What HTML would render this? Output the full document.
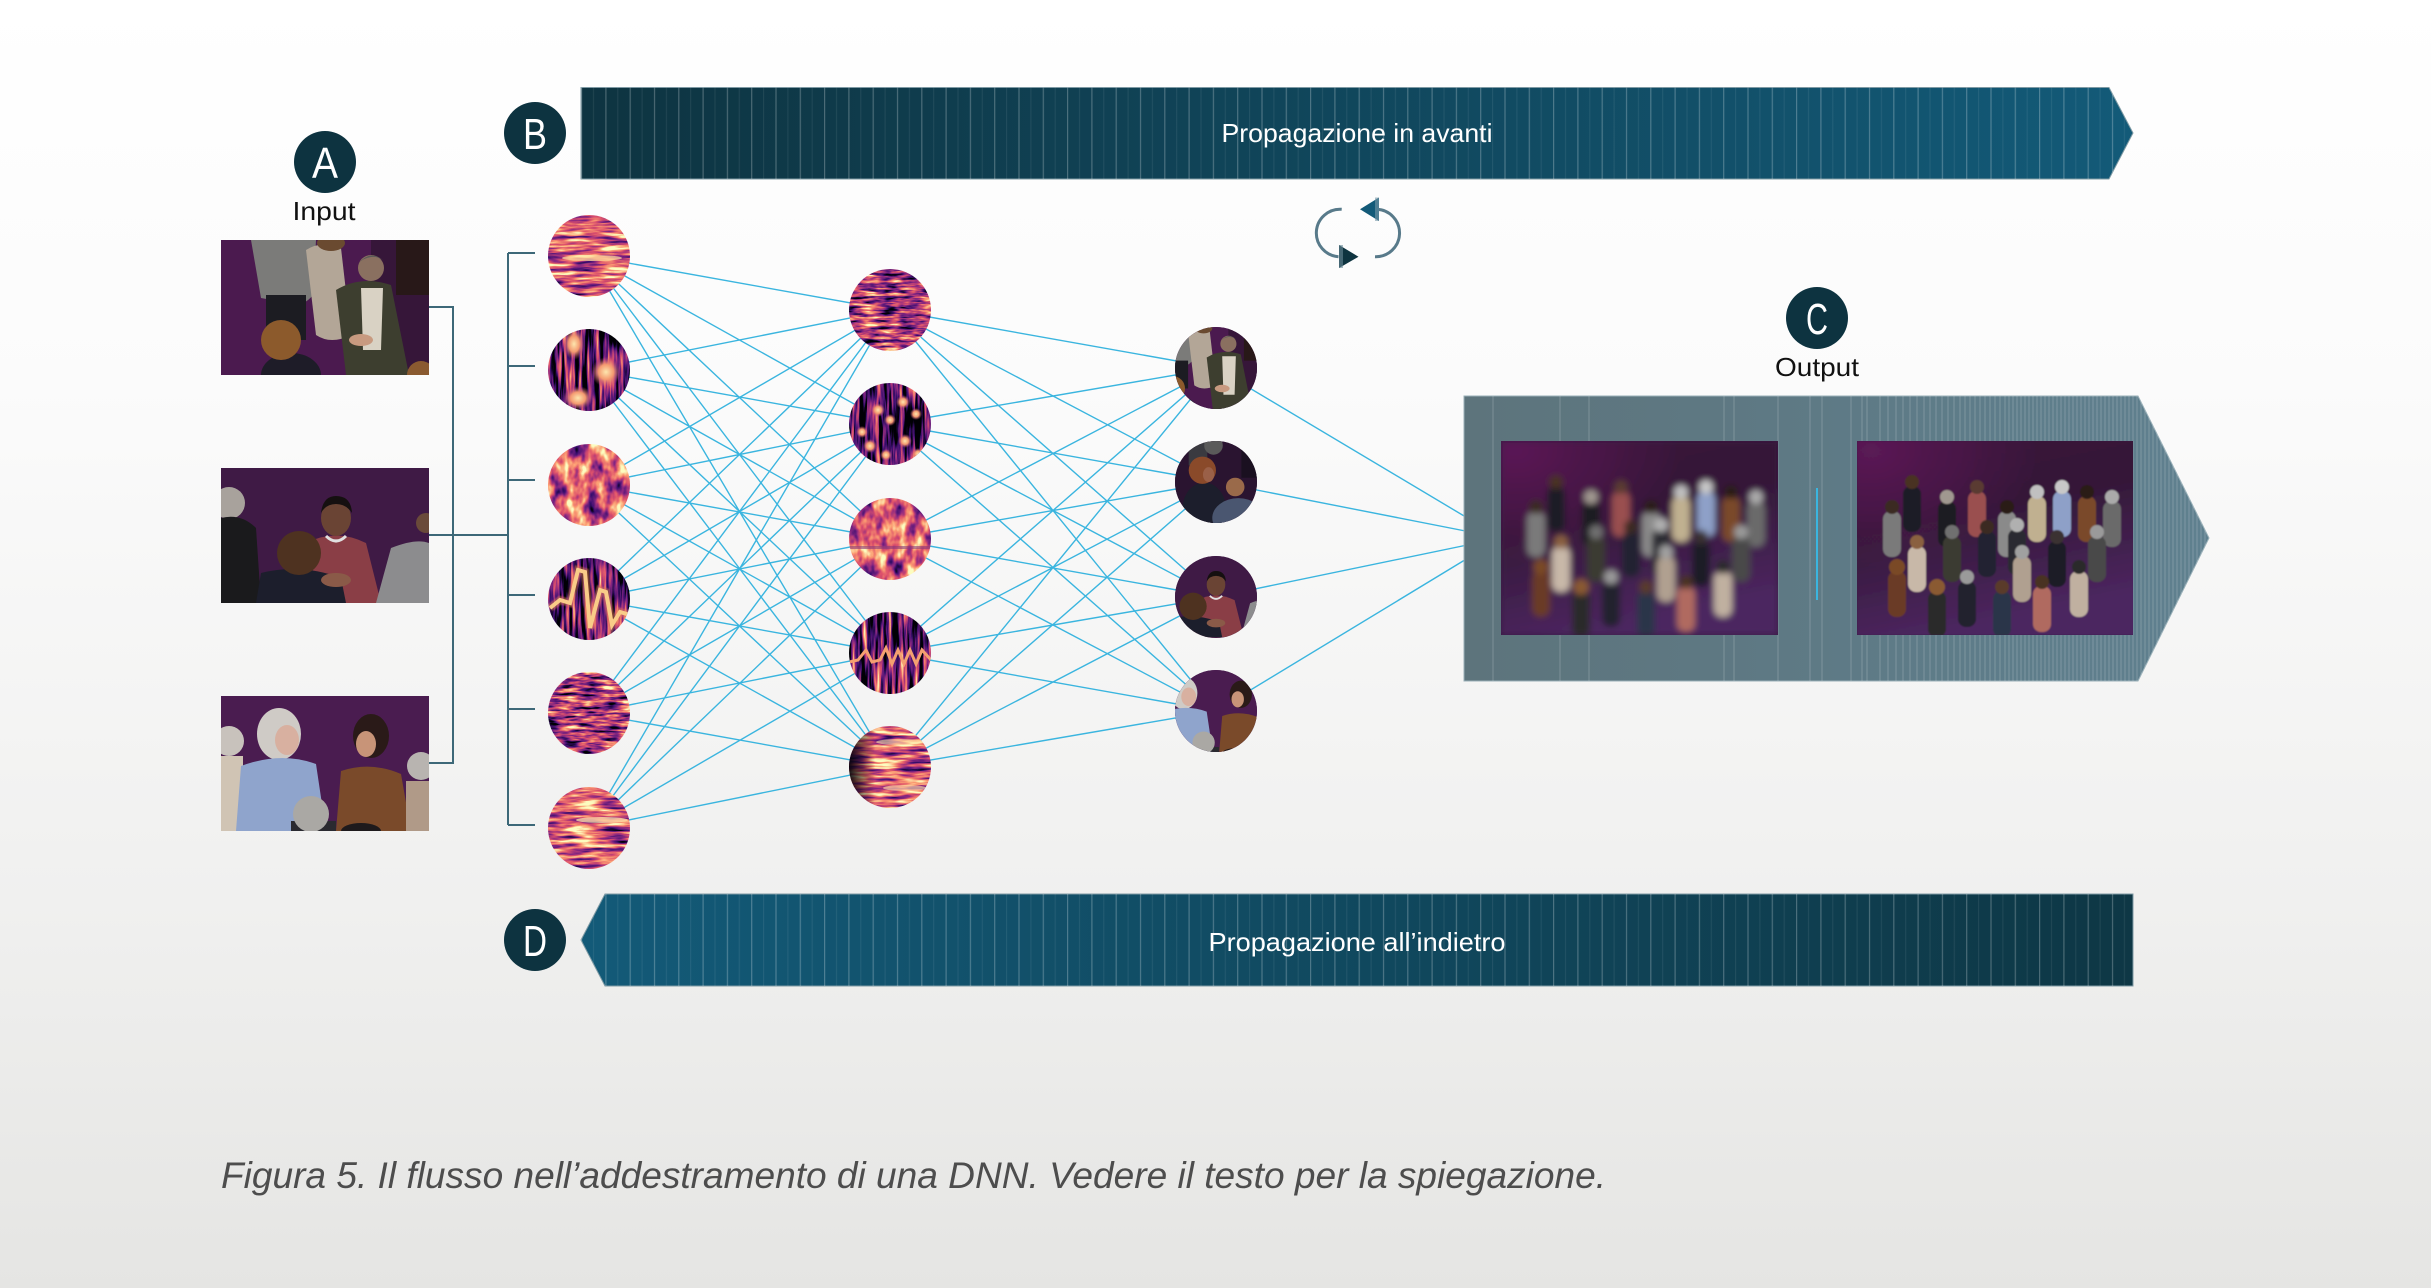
<!DOCTYPE html>
<html><head><meta charset="utf-8">
<style>
html,body{margin:0;padding:0;width:2431px;height:1288px;overflow:hidden;background:#f3f3f2}
svg{display:block}
</style></head>
<body>
<svg width="2431" height="1288" viewBox="0 0 2431 1288" xmlns="http://www.w3.org/2000/svg">
<defs>
  <linearGradient id="bg" x1="0" y1="0" x2="0" y2="1">
    <stop offset="0" stop-color="#ffffff"/>
    <stop offset="0.3" stop-color="#fbfbfb"/>
    <stop offset="0.7" stop-color="#f0f0ef"/>
    <stop offset="1" stop-color="#e5e5e3"/>
  </linearGradient>
  <linearGradient id="gTop" x1="0" y1="0" x2="1" y2="0">
    <stop offset="0" stop-color="#0e3441"/>
    <stop offset="1" stop-color="#135a78"/>
  </linearGradient>
  <linearGradient id="gBot" x1="0" y1="0" x2="1" y2="0">
    <stop offset="0" stop-color="#135a78"/>
    <stop offset="1" stop-color="#0e3745"/>
  </linearGradient>
  <linearGradient id="gOut" x1="0" y1="0" x2="1" y2="0">
    <stop offset="0" stop-color="#5d747c"/>
    <stop offset="1" stop-color="#5f808f"/>
  </linearGradient>
  <pattern id="strp" x="581" y="0" width="24.3" height="20" patternUnits="userSpaceOnUse">
    <rect x="0" y="0" width="1.2" height="20" fill="#ffffff" fill-opacity="0.25"/>
    <rect x="12" y="0" width="1" height="20" fill="#ffffff" fill-opacity="0.08"/>
  </pattern>
  <clipPath id="cOutBox"><path d="M1464 396H2138L2209 538L2138 681H1464Z"/></clipPath>

  <!-- spectrogram filters -->
  <filter id="fHw" x="0" y="0" width="1" height="1" color-interpolation-filters="sRGB">
    <feTurbulence type="fractalNoise" baseFrequency="0.03 0.25" numOctaves="3" seed="4"/>
    <feColorMatrix type="matrix" values="1.7 0 0 0 -0.22 1.7 0 0 0 -0.22 1.7 0 0 0 -0.22 0 0 0 0 1"/>
    <feComponentTransfer>
      <feFuncR type="table" tableValues="0 0.23 0.55 0.87 0.99 0.99"/>
      <feFuncG type="table" tableValues="0 0.06 0.16 0.32 0.62 0.99"/>
      <feFuncB type="table" tableValues="0.02 0.44 0.51 0.42 0.45 0.75"/>
    </feComponentTransfer>
  </filter>
  <filter id="fNw" x="0" y="0" width="1" height="1" color-interpolation-filters="sRGB">
    <feTurbulence type="fractalNoise" baseFrequency="0.08 0.05" numOctaves="3" seed="9"/>
    <feColorMatrix type="matrix" values="1.6 0 0 0 -0.17 1.6 0 0 0 -0.17 1.6 0 0 0 -0.17 0 0 0 0 1"/>
    <feComponentTransfer>
      <feFuncR type="table" tableValues="0 0.23 0.55 0.87 0.99 0.99"/>
      <feFuncG type="table" tableValues="0 0.06 0.16 0.32 0.62 0.99"/>
      <feFuncB type="table" tableValues="0.02 0.44 0.51 0.42 0.45 0.75"/>
    </feComponentTransfer>
  </filter>
  <filter id="fHm" x="0" y="0" width="1" height="1" color-interpolation-filters="sRGB">
    <feTurbulence type="fractalNoise" baseFrequency="0.05 0.3" numOctaves="3" seed="17"/>
    <feColorMatrix type="matrix" values="1.8 0 0 0 -0.42 1.8 0 0 0 -0.42 1.8 0 0 0 -0.42 0 0 0 0 1"/>
    <feComponentTransfer>
      <feFuncR type="table" tableValues="0 0.23 0.55 0.87 0.99 0.99"/>
      <feFuncG type="table" tableValues="0 0.06 0.16 0.32 0.62 0.99"/>
      <feFuncB type="table" tableValues="0.02 0.44 0.51 0.42 0.45 0.75"/>
    </feComponentTransfer>
  </filter>
  <filter id="fVd" x="0" y="0" width="1" height="1" color-interpolation-filters="sRGB">
    <feTurbulence type="fractalNoise" baseFrequency="0.25 0.02" numOctaves="3" seed="23"/>
    <feColorMatrix type="matrix" values="2.0 0 0 0 -0.75 2.0 0 0 0 -0.75 2.0 0 0 0 -0.75 0 0 0 0 1"/>
    <feComponentTransfer>
      <feFuncR type="table" tableValues="0 0.23 0.55 0.87 0.99 0.99"/>
      <feFuncG type="table" tableValues="0 0.06 0.16 0.32 0.62 0.99"/>
      <feFuncB type="table" tableValues="0.02 0.44 0.51 0.42 0.45 0.75"/>
    </feComponentTransfer>
  </filter>
  <radialGradient id="blob">
    <stop offset="0" stop-color="#fde6ae"/>
    <stop offset="0.5" stop-color="#f49a70"/>
    <stop offset="1" stop-color="#c04a7a" stop-opacity="0"/>
  </radialGradient>
  <linearGradient id="darkL" x1="0" y1="0" x2="1" y2="0">
    <stop offset="0" stop-color="#08040c" stop-opacity="0.95"/>
    <stop offset="1" stop-color="#08040c" stop-opacity="0"/>
  </linearGradient>
  <filter id="soft"><feGaussianBlur stdDeviation="0.8"/></filter>
  <filter id="blurA" x="-5%" y="-5%" width="110%" height="110%"><feGaussianBlur stdDeviation="3.2"/></filter>
  <filter id="blurB" x="-5%" y="-5%" width="110%" height="110%"><feGaussianBlur stdDeviation="0.7"/></filter>

  <!-- neuron clips -->
  <clipPath id="n0"><circle cx="589" cy="256" r="41"/></clipPath>
  <clipPath id="n1"><circle cx="589" cy="370" r="41"/></clipPath>
  <clipPath id="n2"><circle cx="589" cy="485" r="41"/></clipPath>
  <clipPath id="n3"><circle cx="589" cy="599" r="41"/></clipPath>
  <clipPath id="n4"><circle cx="589" cy="713" r="41"/></clipPath>
  <clipPath id="n5"><circle cx="589" cy="828" r="41"/></clipPath>
  <clipPath id="m0"><circle cx="890" cy="310" r="41"/></clipPath>
  <clipPath id="m1"><circle cx="890" cy="424" r="41"/></clipPath>
  <clipPath id="m2"><circle cx="890" cy="539" r="41"/></clipPath>
  <clipPath id="m3"><circle cx="890" cy="653" r="41"/></clipPath>
  <clipPath id="m4"><circle cx="890" cy="767" r="41"/></clipPath>
  <clipPath id="k0"><circle cx="1216" cy="368" r="41"/></clipPath>
  <clipPath id="k1"><circle cx="1216" cy="482" r="41"/></clipPath>
  <clipPath id="k2"><circle cx="1216" cy="597" r="41"/></clipPath>
  <clipPath id="k3"><circle cx="1216" cy="711" r="41"/></clipPath>

  <!-- photos -->
  <clipPath id="cImg"><rect x="0" y="0" width="208" height="135"/></clipPath>
  <g id="p1" clip-path="url(#cImg)">
    <rect width="208" height="135" fill="#4b1a4f"/>
    <rect x="150" width="58" height="135" fill="#2e1630" opacity="0.7"/>
    <path d="M30 0H95L92 55Q80 70 62 62L40 58Z" fill="#7b7b79"/>
    <rect x="45" y="55" width="40" height="45" fill="#1c1c22"/>
    <path d="M85 10Q100 0 120 8L130 95Q110 105 95 95Z" fill="#b3a697"/>
    <ellipse cx="110" cy="3" rx="14" ry="8" fill="#6a4a30"/>
    <rect x="175" y="0" width="33" height="55" fill="#281818"/>
    <path d="M115 50Q140 35 170 45L188 135H125Z" fill="#3d3e2f"/>
    <path d="M140 48H162L160 110H142Z" fill="#d9d2c4"/>
    <circle cx="150" cy="28" r="13" fill="#8a7060"/>
    <path d="M137 24Q150 8 164 22Q158 16 150 17Q142 18 137 24Z" fill="#5a5a58"/>
    <ellipse cx="140" cy="100" rx="12" ry="6" fill="#c89a80"/>
    <ellipse cx="70" cy="135" rx="30" ry="22" fill="#1e1c28"/>
    <circle cx="60" cy="100" r="20" fill="#8c5a2c"/>
    <circle cx="200" cy="135" r="14" fill="#8a5a30"/>
  </g>
  <g id="p2" clip-path="url(#cImg)">
    <rect width="208" height="135" fill="#3f1a45"/>
    <circle cx="8" cy="35" r="16" fill="#a8a29c"/>
    <path d="M0 50Q20 45 35 60L40 135H0Z" fill="#1a1a1c"/>
    <path d="M85 75Q115 60 145 75L160 135H75Z" fill="#8a3e46"/>
    <path d="M105 68Q115 78 125 68" stroke="#e0e0e0" stroke-width="3" fill="none"/>
    <ellipse cx="115" cy="50" rx="15" ry="18" fill="#6a4434"/>
    <path d="M100 45Q102 28 115 28Q130 28 131 45Q125 36 115 36Q105 36 100 45Z" fill="#151010"/>
    <path d="M40 105Q80 95 120 110L125 135H35Z" fill="#1c1e2c"/>
    <circle cx="78" cy="85" r="22" fill="#4e3220"/>
    <ellipse cx="115" cy="112" rx="15" ry="7" fill="#8a5a48"/>
    <path d="M170 80Q195 70 208 75V135H155Z" fill="#8c8c8e"/>
    <circle cx="205" cy="55" r="10" fill="#6a4a3a"/>
  </g>
  <g id="p3" clip-path="url(#cImg)">
    <rect width="208" height="135" fill="#4a1c50"/>
    <circle cx="8" cy="45" r="15" fill="#c8c2bc"/>
    <rect x="0" y="60" width="22" height="75" fill="#d0c4b4"/>
    <ellipse cx="58" cy="38" rx="22" ry="26" fill="#cfcbc6"/>
    <ellipse cx="66" cy="44" rx="12" ry="15" fill="#d8b0a0"/>
    <path d="M20 70Q60 55 95 68L105 135H15Z" fill="#8fa4cc"/>
    <rect x="70" y="125" width="45" height="10" fill="#2a2a30"/>
    <circle cx="90" cy="118" r="18" fill="#aaa8a4"/>
    <ellipse cx="150" cy="40" rx="18" ry="22" fill="#2a1a18"/>
    <ellipse cx="145" cy="48" rx="10" ry="13" fill="#c89478"/>
    <path d="M120 75Q150 65 180 78L190 135H115Z" fill="#7a4a2a"/>
    <circle cx="200" cy="70" r="14" fill="#b8b4b0"/>
    <rect x="185" y="85" width="23" height="50" fill="#b09a88"/>
    <ellipse cx="140" cy="135" rx="20" ry="8" fill="#1e1a1c"/>
  </g>
  <g id="p4" clip-path="url(#cImg)">
    <rect width="208" height="135" fill="#2a1430"/>
    <rect x="60" y="0" width="30" height="40" fill="#3a3a40"/>
    <circle cx="100" cy="8" r="15" fill="#5a5a5a"/>
    <rect x="145" y="0" width="45" height="60" fill="#1a1020"/>
    <ellipse cx="85" cy="110" rx="35" ry="42" fill="#1c1e2c"/>
    <circle cx="82" cy="48" r="22" fill="#8a4a2a"/>
    <ellipse cx="92" cy="55" rx="9" ry="12" fill="#9a6048"/>
    <ellipse cx="140" cy="125" rx="42" ry="32" fill="#4a5670"/>
    <circle cx="135" cy="75" r="15" fill="#9a6a4a"/>
  </g>

  <!-- crowd -->
  <linearGradient id="crowdBg" x1="0" y1="0" x2="0.3" y2="1">
    <stop offset="0" stop-color="#3a1439"/>
    <stop offset="0.45" stop-color="#341838"/>
    <stop offset="1" stop-color="#4c2660"/>
  </linearGradient>
  <radialGradient id="crowdRad" cx="0.05" cy="0.05" r="0.6">
    <stop offset="0" stop-color="#5e1a58" stop-opacity="0.9"/>
    <stop offset="1" stop-color="#5e1a58" stop-opacity="0"/>
  </radialGradient>
  <clipPath id="cCrowd"><rect x="0" y="0" width="277" height="194"/></clipPath>
  <g id="crowd" clip-path="url(#cCrowd)">
    <rect width="277" height="194" fill="url(#crowdBg)"/>
    <rect width="277" height="194" fill="url(#crowdRad)"/>
    <rect x="26" y="70" width="18" height="46" rx="8" fill="#7a7a7a"/><circle cx="35" cy="66" r="7" fill="#3a2a20"/>
    <rect x="46" y="45" width="18" height="46" rx="8" fill="#1a1d28"/><circle cx="55" cy="41" r="7" fill="#4a3020"/>
    <rect x="81" y="60" width="18" height="46" rx="8" fill="#1e1e22"/><circle cx="90" cy="56" r="7" fill="#a09890"/>
    <rect x="111" y="50" width="18" height="46" rx="8" fill="#9a5050"/><circle cx="120" cy="46" r="7" fill="#5a3a30"/>
    <rect x="141" y="70" width="18" height="46" rx="8" fill="#8a8a8a"/><circle cx="150" cy="66" r="7" fill="#2a1a14"/>
    <rect x="171" y="55" width="18" height="46" rx="8" fill="#c0b090"/><circle cx="180" cy="51" r="7" fill="#c0c0c0"/>
    <rect x="196" y="50" width="18" height="46" rx="8" fill="#8ea0c8"/><circle cx="205" cy="46" r="7" fill="#c8c8c8"/>
    <rect x="221" y="55" width="18" height="46" rx="8" fill="#7a4a2a"/><circle cx="230" cy="51" r="7" fill="#2a1a18"/>
    <rect x="246" y="60" width="18" height="46" rx="8" fill="#6a6a6a"/><circle cx="255" cy="56" r="7" fill="#aaaaaa"/>
    <rect x="51" y="105" width="18" height="46" rx="8" fill="#c8b8a8"/><circle cx="60" cy="101" r="7" fill="#8a6040"/>
    <rect x="86" y="95" width="18" height="46" rx="8" fill="#3a3a30"/><circle cx="95" cy="91" r="7" fill="#707070"/>
    <rect x="121" y="90" width="18" height="46" rx="8" fill="#202430"/><circle cx="130" cy="86" r="7" fill="#3a2a20"/>
    <rect x="151" y="88" width="18" height="46" rx="8" fill="#2a2a30"/><circle cx="160" cy="84" r="7" fill="#b0b0b0"/>
    <rect x="156" y="115" width="18" height="46" rx="8" fill="#b0a090"/><circle cx="165" cy="111" r="7" fill="#a0a0a0"/>
    <rect x="191" y="100" width="18" height="46" rx="8" fill="#1a1c26"/><circle cx="200" cy="96" r="7" fill="#3a3030"/>
    <rect x="231" y="95" width="18" height="46" rx="8" fill="#4a4a48"/><circle cx="240" cy="91" r="7" fill="#9a9a9a"/>
    <rect x="31" y="130" width="18" height="46" rx="8" fill="#6a3a28"/><circle cx="40" cy="126" r="8" fill="#7a4a28"/>
    <rect x="101" y="140" width="18" height="46" rx="8" fill="#20242e"/><circle cx="110" cy="136" r="7" fill="#9a9a9a"/>
    <rect x="71" y="150" width="18" height="46" rx="8" fill="#2a2a2a"/><circle cx="80" cy="146" r="8" fill="#8a5a30"/>
    <rect x="136" y="150" width="18" height="46" rx="8" fill="#2c3448"/><circle cx="145" cy="146" r="7" fill="#5a3a2a"/>
    <rect x="176" y="145" width="18" height="46" rx="8" fill="#b06a60"/><circle cx="185" cy="141" r="7" fill="#4a3020"/>
    <rect x="213" y="130" width="18" height="46" rx="8" fill="#c0b0a0"/><circle cx="222" cy="126" r="7" fill="#2a2a2a"/>
  </g>
</defs>

<!-- background -->
<rect x="0" y="0" width="2431" height="1288" fill="url(#bg)"/>

<!-- top bar -->
<path d="M581 87.5H2109L2133 133L2109 179H581Z" fill="url(#gTop)" stroke="#7f9aa4" stroke-width="1"/>
<path d="M581 87.5H2109L2133 133L2109 179H581Z" fill="url(#strp)"/>
<text x="1357" y="142" text-anchor="middle" font-family="Liberation Sans, sans-serif" font-size="26" fill="#ffffff" textLength="271" lengthAdjust="spacingAndGlyphs">Propagazione in avanti</text>

<!-- bottom bar -->
<path d="M581 940L605 894H2133V986H605Z" fill="url(#gBot)" stroke="#7f9aa4" stroke-width="1"/>
<path d="M581 940L605 894H2133V986H605Z" fill="url(#strp)"/>
<text x="1357" y="951" text-anchor="middle" font-family="Liberation Sans, sans-serif" font-size="26" fill="#ffffff" textLength="297" lengthAdjust="spacingAndGlyphs">Propagazione all’indietro</text>

<!-- label circles -->
<circle cx="325" cy="162" r="31" fill="#0d3340"/>
<text x="325" y="178" text-anchor="middle" font-family="Liberation Sans, sans-serif" font-size="44" fill="#ffffff" textLength="26" lengthAdjust="spacingAndGlyphs">A</text>
<text x="324" y="220" text-anchor="middle" font-family="Liberation Sans, sans-serif" font-size="26" fill="#111111" textLength="63" lengthAdjust="spacingAndGlyphs">Input</text>
<circle cx="535" cy="133" r="31" fill="#0d3340"/>
<text x="535" y="149" text-anchor="middle" font-family="Liberation Sans, sans-serif" font-size="44" fill="#ffffff" textLength="24" lengthAdjust="spacingAndGlyphs">B</text>
<circle cx="1817" cy="318" r="31" fill="#0d3340"/>
<text x="1817" y="334" text-anchor="middle" font-family="Liberation Sans, sans-serif" font-size="44" fill="#ffffff" textLength="22" lengthAdjust="spacingAndGlyphs">C</text>
<text x="1817" y="376" text-anchor="middle" font-family="Liberation Sans, sans-serif" font-size="26" fill="#111111" textLength="84" lengthAdjust="spacingAndGlyphs">Output</text>
<circle cx="535" cy="940" r="31" fill="#0d3340"/>
<text x="535" y="956" text-anchor="middle" font-family="Liberation Sans, sans-serif" font-size="44" fill="#ffffff" textLength="24" lengthAdjust="spacingAndGlyphs">D</text>

<!-- cycle icon -->
<path d="M1341.7 209.3A23.7 23.7 0 0 0 1338.5 256.7" fill="none" stroke="#587a8a" stroke-width="3"/>
<path d="M1375 256.7A23.7 23.7 0 0 0 1376.7 209.3" fill="none" stroke="#587a8a" stroke-width="3"/>
<polygon points="1339,245 1339,268 1358.5,256.7" fill="#0e3440"/>
<rect x="1339" y="245" width="4" height="23" fill="#6a8a98" opacity="0.6"/>
<polygon points="1379,197.5 1379,221 1360,209.3" fill="#135a78"/>
<rect x="1375" y="197.5" width="4" height="23.5" fill="#7a9aa8" opacity="0.6"/>

<!-- input images -->
<use href="#p1" x="221" y="240"/>
<use href="#p2" x="221" y="468"/>
<use href="#p3" x="221" y="696"/>

<!-- brackets -->
<g fill="none" stroke="#3d6878" stroke-width="2">
  <path d="M429 307H453V763H429"/>
  <path d="M429 535H508"/>
  <path d="M508 253V825"/>
  <path d="M508 253H535M508 366H535M508 480H535M508 595H535M508 709H535M508 825H535"/>
</g>

<!-- connections -->
<path fill="none" stroke="#3ab5df" stroke-width="1.4" d="
M589 256L890 310M589 256L890 424M589 256L890 539M589 256L890 653M589 256L890 767
M589 370L890 310M589 370L890 424M589 370L890 539M589 370L890 653M589 370L890 767
M589 485L890 310M589 485L890 424M589 485L890 539M589 485L890 653M589 485L890 767
M589 599L890 310M589 599L890 424M589 599L890 539M589 599L890 653M589 599L890 767
M589 713L890 310M589 713L890 424M589 713L890 539M589 713L890 653M589 713L890 767
M589 828L890 310M589 828L890 424M589 828L890 539M589 828L890 653M589 828L890 767
M890 310L1216 368M890 310L1216 482M890 310L1216 597M890 310L1216 711
M890 424L1216 368M890 424L1216 482M890 424L1216 597M890 424L1216 711
M890 539L1216 368M890 539L1216 482M890 539L1216 597M890 539L1216 711
M890 653L1216 368M890 653L1216 482M890 653L1216 597M890 653L1216 711
M890 767L1216 368M890 767L1216 482M890 767L1216 597M890 767L1216 711
M1216 368L1501 538M1216 482L1501 538M1216 597L1501 538M1216 711L1501 538"/>

<!-- layer 1 neurons -->
<g clip-path="url(#n0)">
  <rect x="548" y="215" width="82" height="82" filter="url(#fHw)"/>
  <ellipse cx="592" cy="258" rx="30" ry="3" fill="#fce0a0" opacity="0.7"/>
</g>
<g clip-path="url(#n1)">
  <rect x="548" y="329" width="82" height="82" filter="url(#fVd)"/>
  <ellipse cx="574" cy="344" rx="11" ry="16" fill="url(#blob)"/>
  <ellipse cx="606" cy="372" rx="15" ry="15" fill="url(#blob)"/>
  <ellipse cx="578" cy="398" rx="15" ry="12" fill="url(#blob)"/>
</g>
<g clip-path="url(#n2)">
  <rect x="548" y="444" width="82" height="82" filter="url(#fNw)"/>
</g>
<g clip-path="url(#n3)">
  <rect x="548" y="558" width="82" height="82" filter="url(#fVd)"/>
  <polyline points="550,608 560,600 570,603 578,570 585,572 590,628 600,590 606,592 612,625 620,612 630,615" fill="none" stroke="#e0785a" stroke-width="8" opacity="0.55" filter="url(#soft)"/>
  <polyline points="550,608 560,600 570,603 578,570 585,572 590,628 600,590 606,592 612,625 620,612 630,615" fill="none" stroke="#f9cc88" stroke-width="4"/>
</g>
<g clip-path="url(#n4)">
  <rect x="548" y="672" width="82" height="82" filter="url(#fHm)"/>
</g>
<g clip-path="url(#n5)">
  <rect x="548" y="787" width="82" height="82" filter="url(#fHw)"/>
  <ellipse cx="602" cy="820" rx="26" ry="3" fill="#fde2a8" opacity="0.75"/>
</g>

<!-- layer 2 neurons -->
<g clip-path="url(#m0)">
  <rect x="849" y="269" width="82" height="82" filter="url(#fHm)"/>
</g>
<g clip-path="url(#m1)">
  <rect x="849" y="383" width="82" height="82" filter="url(#fVd)"/>
  <circle cx="862" cy="432" r="6" fill="url(#blob)"/>
  <circle cx="878" cy="410" r="7" fill="url(#blob)"/>
  <circle cx="890" cy="420" r="6" fill="url(#blob)"/>
  <circle cx="903" cy="402" r="7" fill="url(#blob)"/>
  <circle cx="916" cy="414" r="6" fill="url(#blob)"/>
  <circle cx="870" cy="446" r="7" fill="url(#blob)"/>
  <circle cx="886" cy="455" r="6" fill="url(#blob)"/>
  <circle cx="905" cy="441" r="7" fill="url(#blob)"/>
  <circle cx="918" cy="454" r="6" fill="url(#blob)"/>
</g>
<g clip-path="url(#m2)">
  <rect x="849" y="498" width="82" height="82" filter="url(#fNw)"/>
  <rect x="849" y="546" width="82" height="3" fill="#8a3a7a" opacity="0.6"/>
</g>
<g clip-path="url(#m3)">
  <rect x="849" y="612" width="82" height="82" filter="url(#fVd)"/>
  <polyline points="849,662 858,660 866,650 872,662 880,660 886,648 892,664 898,650 904,664 910,650 916,664 922,650 931,660" fill="none" stroke="#f4a070" stroke-width="3"/>
</g>
<g clip-path="url(#m4)">
  <rect x="849" y="726" width="82" height="82" filter="url(#fHw)"/>
  <rect x="849" y="726" width="26" height="82" fill="url(#darkL)"/>
  <ellipse cx="900" cy="742" rx="24" ry="3" fill="#fde2a8" opacity="0.6"/>
  <ellipse cx="905" cy="788" rx="22" ry="3" fill="#fde2a8" opacity="0.6"/>
</g>

<!-- layer 3 neurons (photos) -->
<g clip-path="url(#k0)"><rect x="1175" y="327" width="82" height="82" fill="#3a1a3e"/><use href="#p1" transform="translate(1135.4 326.5) scale(0.62)"/></g>
<g clip-path="url(#k1)"><rect x="1175" y="441" width="82" height="82" fill="#2a1430"/><use href="#p4" transform="translate(1151.5 440.5) scale(0.62)"/></g>
<g clip-path="url(#k2)"><rect x="1175" y="556" width="82" height="82" fill="#3f1a45"/><use href="#p2" transform="translate(1144.7 553.6) scale(0.62)"/></g>
<g clip-path="url(#k3)"><rect x="1175" y="670" width="82" height="82" fill="#4a1c50"/><use href="#p3" transform="translate(1147.8 669.5) scale(0.62)"/></g>

<!-- output box -->
<path d="M1464 396H2138L2209 538L2138 681H1464Z" fill="url(#gOut)" stroke="#9ab0b8" stroke-width="1"/>
<g clip-path="url(#cOutBox)">
<path fill="none" stroke="#ffffff" stroke-opacity="0.2" stroke-width="1" d="M1493 396V681M1560 396V681M1589 396V681M1724 396V681M1734 396V681M1778 396V681M1810 396V681M1822 396V681M1851 396V681M1862 396V681M1867 396V681
M1880 396V681M1888 396V681M1896 396V681M1903 396V681M1910 396V681M1917 396V681M1924 396V681M1930 396V681M1936 396V681M1942 396V681M1948 396V681M1954 396V681M1960 396V681M1965 396V681M1970 396V681M1975 396V681M1980 396V681M1985 396V681M1990 396V681M1995 396V681M2000 396V681M2005 396V681M2009 396V681M2013 396V681M2017 396V681M2021 396V681M2025 396V681M2029 396V681M2033 396V681M2037 396V681M2041 396V681M2045 396V681M2049 396V681M2053 396V681M2057 396V681M2061 396V681M2065 396V681M2069 396V681M2073 396V681M2077 396V681M2081 396V681M2085 396V681M2089 396V681M2093 396V681M2097 396V681M2101 396V681M2105 396V681M2109 396V681M2113 396V681M2117 396V681M2121 396V681M2125 396V681M2129 396V681M2133 396V681M2137 396V681M2141 396V681M2145 396V681M2149 396V681M2153 396V681M2157 396V681M2161 396V681M2165 396V681M2169 396V681M2173 396V681M2177 396V681M2181 396V681M2185 396V681M2189 396V681M2193 396V681M2197 396V681M2201 396V681M2205 396V681"/>
</g>
<clipPath id="cOA"><rect x="1501" y="441" width="277" height="194"/></clipPath>
<clipPath id="cOB"><rect x="1857" y="441" width="276" height="194"/></clipPath>
<g clip-path="url(#cOA)">
  <rect x="1501" y="441" width="277" height="194" fill="#3a1a44"/>
  <use href="#crowd" x="1501" y="441" filter="url(#blurA)"/>
</g>
<g clip-path="url(#cOB)">
  <rect x="1857" y="441" width="276" height="194" fill="#3a1a44"/>
  <use href="#crowd" x="1857" y="441" filter="url(#blurB)"/>
</g>
<line x1="1817" y1="488" x2="1817" y2="600" stroke="#3ab5df" stroke-width="2"/>

<!-- caption -->
<text x="221" y="1188" font-family="Liberation Sans, sans-serif" font-style="italic" font-size="37" fill="#4d4d4d" textLength="1385" lengthAdjust="spacingAndGlyphs">Figura 5. Il flusso nell’addestramento di una DNN. Vedere il testo per la spiegazione.</text>
</svg>
</body></html>
